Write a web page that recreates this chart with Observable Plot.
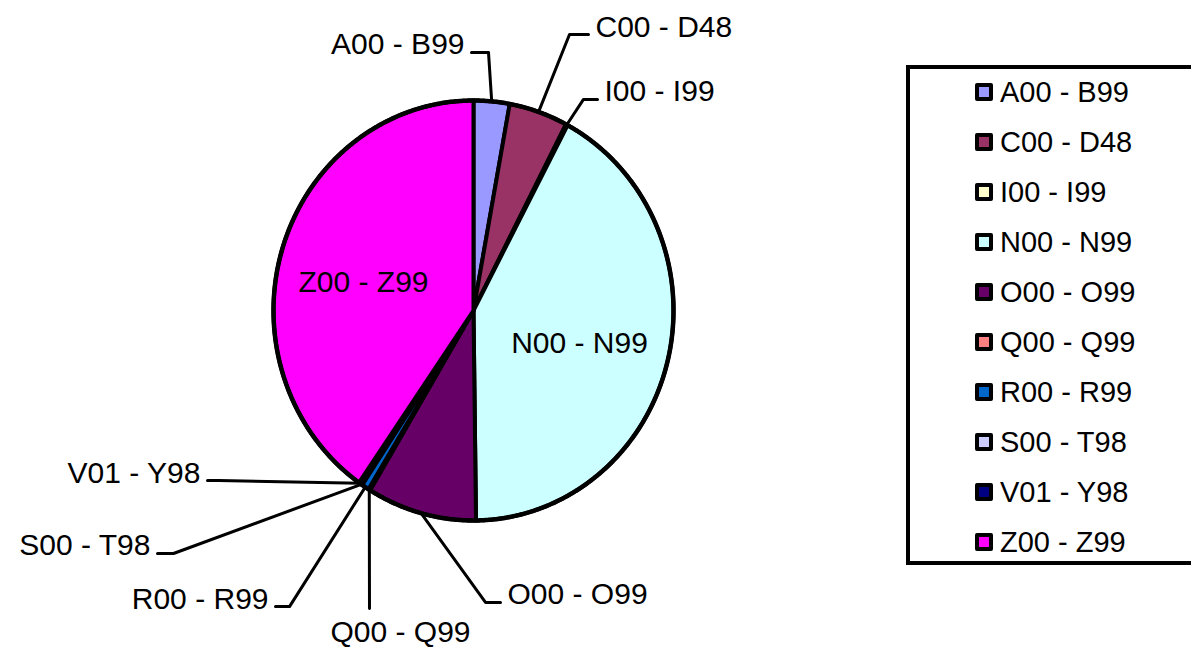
<!DOCTYPE html>
<html><head><meta charset="utf-8">
<script src="https://cdn.jsdelivr.net/npm/d3@7"></script>
<script src="https://cdn.jsdelivr.net/npm/@observablehq/plot@0.6"></script>
<style>
body{margin:0;background:#fff;font-family:"Liberation Sans",Arial,sans-serif;}
#wrap{position:relative;width:1191px;height:649px;overflow:hidden}
#chart{position:absolute;left:0;top:0}
#legend{position:absolute;left:906px;top:65px;width:320px;height:492px;border:4px solid #000;background:#fff}
.item{position:absolute;left:65px;height:50px;display:flex;align-items:center;font-size:29px;color:#000;white-space:nowrap}
.sw{width:10px;height:10px;border:4px solid #000;border-radius:2px;margin-right:7px;flex:none}
</style></head><body>
<div id="wrap"><div id="chart"></div><div id="legend"></div></div>
<script>
// ---- data ----
const categories = ["A00 - B99","C00 - D48","I00 - I99","N00 - N99","O00 - O99","Q00 - Q99","R00 - R99","S00 - T98","V01 - Y98","Z00 - Z99"];
const values = [2.9, 4.75, 0.15, 42.0, 8.85, 0.15, 0.6, 0.15, 0.15, 40.3];
const colors = ["#9999FF","#993366","#FFFFCC","#CCFFFF","#660066","#FF8080","#0066CC","#CCCCFF","#000080","#FF00FF"];
// outside label layout (pie units: elbow point, line end, text anchor side)
const outsideLabels = ["A00 - B99","C00 - D48","I00 - I99","O00 - O99","Q00 - Q99","R00 - R99","S00 - T98","V01 - Y98"];
const elbowX = [0.075, 0.48, 0.55, 0.06, -0.52, -0.92, -1.5, -1.275];
const elbowY = [1.229, 1.314, 1.005, -1.39, -1.419, -1.41, -1.157, -0.81];
const endX = [-0.01, 0.575, 0.62, 0.135, -0.52, -0.99, -1.58, -1.33];
const endY = [1.229, 1.314, 1.005, -1.39, -1.419, -1.41, -1.157, -0.81];
const anchors = ["end","start","start","start","below","end","end","end"];
// inside labels (pie units)
const insideLabels = ["N00 - N99","Z00 - Z99"];
const insideX = [0.53, -0.55];
const insideY = [-0.157, 0.133];

// ---- geometry ----
const total = d3.sum(values);
let acc = 0;
const slices = categories.map((c, i) => {
  const a0 = acc / total * 2 * Math.PI; acc += values[i];
  const a1 = acc / total * 2 * Math.PI;
  return {c, a0, a1, color: colors[i]};
});
const pts = [];
for (const s of slices) {
  pts.push({c: s.c, color: s.color, x: 0, y: 0});
  const n = Math.max(2, Math.ceil((s.a1 - s.a0) / (Math.PI / 360)));
  for (let k = 0; k <= n; k++) {
    const a = s.a0 + (s.a1 - s.a0) * k / n;
    pts.push({c: s.c, color: s.color, x: Math.sin(a), y: Math.cos(a)});
  }
  pts.push({c: s.c, color: s.color, x: 0, y: 0});
}
const outline = d3.range(0, 721).map(k => ({x: Math.sin(k / 720 * 2 * Math.PI), y: Math.cos(k / 720 * 2 * Math.PI)}));

const leaders = [];
const labels = [];
outsideLabels.forEach((c, i) => {
  const s = slices.find(d => d.c === c);
  const m = (s.a0 + s.a1) / 2;
  leaders.push({c, x: Math.sin(m), y: Math.cos(m)});
  leaders.push({c, x: elbowX[i], y: elbowY[i]});
  leaders.push({c, x: endX[i], y: endY[i]});
  labels.push({c, x: endX[i], y: endY[i], anchor: anchors[i]});
});
const inside = insideLabels.map((c, i) => ({c, x: insideX[i], y: insideY[i]}));

const W = 1191, H = 649, cx = 473, cy = 310, rx = 200, ry = 210;
const chart = Plot.plot({
  width: W, height: H,
  margin: 0,
  style: {fontFamily: "Liberation Sans, Arial, sans-serif", background: "transparent"},
  x: {domain: [-cx / rx, (W - cx) / rx], axis: null},
  y: {domain: [(cy - H) / ry, cy / ry], axis: null},
  color: {type: "identity"},
  marks: [
    Plot.line(leaders, {x: "x", y: "y", z: "c", stroke: "black", strokeWidth: 3}),
    Plot.line(pts, {x: "x", y: "y", z: "c", fill: "color", stroke: "black", strokeWidth: 4, strokeLinejoin: "round", strokeLinecap: "round"}),
    Plot.line(outline, {x: "x", y: "y", stroke: "black", strokeWidth: 4.5}),
    Plot.text(labels.filter(d => d.anchor === "end"), {x: "x", y: "y", text: "c", textAnchor: "end", lineAnchor: "bottom", dx: -7, dy: 2, fontSize: 30, fill: "black"}),
    Plot.text(labels.filter(d => d.anchor === "start"), {x: "x", y: "y", text: "c", textAnchor: "start", lineAnchor: "bottom", dx: 7, dy: 2, fontSize: 30, fill: "black"}),
    Plot.text(labels.filter(d => d.anchor === "below"), {x: "x", y: "y", text: "c", textAnchor: "middle", lineAnchor: "top", dx: 31, dy: 12, fontSize: 30, fill: "black"}),
    Plot.text(inside, {x: "x", y: "y", text: "c", textAnchor: "middle", lineAnchor: "middle", fontSize: 30, fill: "black"})
  ]
});
document.getElementById("chart").appendChild(chart);

const legend = document.getElementById("legend");
categories.forEach((c, i) => {
  const it = document.createElement("div");
  it.className = "item";
  it.style.top = (-2 + 50 * i) + "px";
  const sw = document.createElement("span");
  sw.className = "sw"; sw.style.background = colors[i];
  const tx = document.createElement("span");
  tx.textContent = c;
  it.appendChild(sw); it.appendChild(tx);
  legend.appendChild(it);
});
</script>
</body></html>
